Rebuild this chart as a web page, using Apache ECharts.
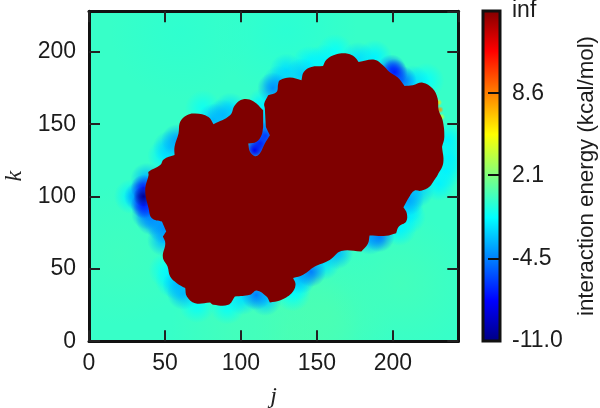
<!DOCTYPE html>
<html>
<head>
<meta charset="utf-8">
<style>
  html, body { margin: 0; padding: 0; background: #fff; }
  #main { width: 600px; height: 408px; }
</style>
<script src="https://cdn.jsdelivr.net/npm/echarts@6/dist/echarts.min.js"></script>
</head>
<body>
<div id="main"></div>
<script>
// outline of the inf region, (j, k)
var infJ = [39.2,46.9,49.1,56.3,56.3,58.9,60,64.4,69.8,78.6,81.9,92.8,96,101.5,108.1,114.6,114.6,113.5,110.2,104.8,105.9,109.2,112.4,115.7,119,116.4,115.7,115.3,117.9,123.4,124.5,125.6,132.2,139.8,141.3,146.4,154,156.2,162.8,170.4,174.8,177.4,187.9,193.4,197.7,203.2,207.6,213,219.6,226.1,229.4,230.1,232.7,233.8,232.3,233.1,229.4,227.2,224,218.5,214.1,210.8,206.9,209.1,208.7,203.9,202.1,195.5,184.6,183.5,179.2,166,158.4,148.6,140.9,134.3,135.9,133.3,125.6,119,116.8,110.3,105.9,96,91.7,81.9,79.7,69.8,64.4,63.3,57.8,53.4,51.7,48.6,50.2,48.6,50.8,48,41.4,39.2,37,39.2];
var infK = [117.1,121.7,125.6,128.6,134.4,143.5,151.6,156.2,157.3,155,150,156.2,163.1,167.2,165.8,159.6,148.1,142.4,137.8,136.6,130.9,127.9,129.8,136.6,142.4,148.1,160.8,164.2,170,172.3,178,180.3,182.2,180.3,186.1,189.5,190.2,194.6,198.3,198.7,196.4,193,194.6,190.7,186.1,182.2,176.4,176.9,178.7,174.6,167.7,159.6,152.7,141.2,134.4,123.1,114.8,111.4,106.8,104,104,99.9,92.6,88.4,82.7,79.2,74.6,72.8,73,67.3,62,62.4,56.2,51.6,45.9,43.6,39,33.2,28.2,26.8,30.9,35.1,32.1,30.9,25.2,25.2,26.8,26.3,30.9,36.7,40.1,44.7,51.6,58.1,67.7,72.3,75.8,82.7,85,91.9,104.5,114.9];
// where two lobes of the outline meet in a sharp corner
var infCusps = [3,10,15,16,19,24,25,26,28,33,36,41,46,54,62,66,68,70,75,79,83,86,89,95,96,97];

// energies read next to the boundary
var haloJ = [36,36,36,33,28,38,38, 109,113,116,115,115, 58,53,50,75,82,88,93,115,121,125,130, 140,145,154,162,177,188,199,201,206,213,222, 236,237,235,230,216,210,209, 210,204,191,185,163,154,146,139,136,134, 110,116,101,91,71,62,59,55,51,49,49,47,41,39];
var haloK = [100,106,94,100,100,112,88, 132,137,142,150,158, 139,134,128,161,153,156,160,163,175,179,187, 184,192,193,200,195,196,188,186,180,179,180, 139,127,118,109,104,98,93, 86,78,72,71,61,54,48,44,40,33, 32,29,30,24,25,33,39,42,49,70,78,81,84,93];
var haloE = [-10.5,-7,-7,-4.5,-1.5,-3,-4, -8,-6.5,-6,-3,-1.5, -3.5,-2.5,-1.5,-0.8,-3,-3,-2,-1.5,-4,-2.5,-2, -2.5,-1.5,-1.5,-1,-2,-1.5,-5,-7,-5,-2,-1, -1.5,-1.5,-1.5,-1.5,-2.5,-3.5,-2, -1.5,-1.5,-4.5,-3,-3,-2,-4.5,-3,-1.5,-1, -4.5,-2.5,-2,-1,-1,-3,-3,-1.5,-1,-3,-4,-3,-4,-5];

// slow drift of the far field
var tintJ = [132,155,100,205,130,60,20];
var tintK = [8,18,8,40,215,215,60];
var tintE = [0.8,0.7,0.5,0.5,-0.1,0,0.4];

// hot rim on the right side of the blob
var rimJ = [230,231,232];
var rimK = [165,160,155];
var rimE = [6,8,4];

var farEnergy = 0.2;
var jMax = 243;
var kMax = 228;
var jTicks = 50;
var kTicks = 50;
var minEnergy = -11;
var infEnergy = 15.1;
var barTicks = [-11, -4.5, 2.1, 8.6, 15.1];
var barLabels = ['-11.0', '-4.5', '2.1', '8.6', 'inf'];
var jetColors = ['#00007f', '#0000ff', '#007fff', '#00ffff', '#7fff7f', '#ffff00', '#ff7f00', '#ff0000', '#7f0000'];

var myChart = echarts.init(document.getElementById('main'), null, { renderer: 'canvas' });

function triples(js, ks, es) {
  return js.map(function (j, i) { return [j, ks[i], es[i]]; })
    .sort(function (a, b) { return b[2] - a[2]; });
}

function glow(radius) {
  return function (params, api) {
    var c = api.coord([api.value(0), api.value(1)]);
    var col = api.visual('color');
    var r = typeof radius === 'function' ? radius(api.value(2)) : radius;
    return {
      type: 'circle',
      shape: { cx: c[0], cy: c[1], r: r },
      style: {
        fill: new echarts.graphic.RadialGradient(0.5, 0.5, 0.5, [
          { offset: 0, color: col },
          { offset: 0.35, color: echarts.color.modifyAlpha(col, 0.7) },
          { offset: 1, color: echarts.color.modifyAlpha(col, 0) }
        ])
      }
    };
  };
}

var axisLine = { show: true, onZero: false, lineStyle: { color: '#111', width: 3 } };
var axisTick = { show: true, inside: true, length: 11, lineStyle: { color: '#222', width: 2 } };
var labelFont = { color: '#1c1c1c', fontSize: 23, fontFamily: 'Liberation Sans' };
var mathFont = { color: '#222', fontSize: 24, fontFamily: 'Liberation Serif', fontStyle: 'italic' };

var option = {
  animation: false,
  backgroundColor: '#fff',
  grid: [
    { left: 89, top: 11.3, width: 369.3, height: 329.9, outerBoundsMode: 'none' },
    { left: 483, top: 11, width: 17, height: 330, outerBoundsMode: 'none' }
  ],
  visualMap: {
    show: false,
    type: 'continuous',
    min: minEnergy,
    max: infEnergy,
    dimension: 2,
    seriesIndex: [0, 1, 2, 3, 4],
    inRange: { color: jetColors }
  },
  xAxis: [
    {
      type: 'value', gridIndex: 0, min: 0, max: jMax, interval: jTicks, position: 'bottom', z: 5,
      name: 'j', nameLocation: 'middle', nameGap: 43, nameTextStyle: mathFont,
      axisLine: axisLine, axisTick: axisTick, splitLine: { show: false },
      axisLabel: Object.assign({ margin: 11, showMaxLabel: false }, labelFont)
    },
    {
      type: 'value', gridIndex: 0, min: 0, max: jMax, interval: jTicks, position: 'top', z: 5,
      axisLine: axisLine, axisTick: axisTick, splitLine: { show: false }, axisLabel: { show: false }
    },
    { type: 'value', gridIndex: 1, min: 0, max: 1, show: false }
  ],
  yAxis: [
    {
      type: 'value', gridIndex: 0, min: 0, max: kMax, interval: kTicks, position: 'left', z: 5,
      name: 'k', nameLocation: 'middle', nameRotate: 90, nameGap: 58, nameTextStyle: mathFont,
      axisLine: axisLine, axisTick: axisTick, splitLine: { show: false },
      axisLabel: Object.assign({ margin: 13, showMaxLabel: false }, labelFont)
    },
    {
      type: 'value', gridIndex: 0, min: 0, max: kMax, interval: kTicks, position: 'right', z: 5,
      axisLine: axisLine, axisTick: axisTick, splitLine: { show: false }, axisLabel: { show: false }
    },
    {
      type: 'value', gridIndex: 1, min: minEnergy, max: infEnergy, position: 'right', z: 5,
      name: 'interaction energy (kcal/mol)', nameLocation: 'middle', nameRotate: 90, nameGap: 76,
      nameTextStyle: { color: '#1c1c1c', fontSize: 22.3, fontFamily: 'Liberation Sans' },
      axisLine: { show: false, onZero: false },
      axisTick: { show: false },
      splitLine: { show: false },
      axisLabel: Object.assign({
        margin: 12,
        customValues: barTicks,
        showMinLabel: true,
        showMaxLabel: true,
        formatter: function (v) {
          var i = barTicks.indexOf(v);
          return i < 0 ? '' : barLabels[i];
        }
      }, labelFont)
    }
  ],
  series: [
    // far field
    {
      type: 'custom', xAxisIndex: 0, yAxisIndex: 0, clip: true,
      data: [[0, 0, farEnergy]],
      renderItem: function (params, api) {
        var a = api.coord([0, kMax]);
        var b = api.coord([jMax, 0]);
        return { type: 'rect', shape: { x: a[0], y: a[1], width: b[0] - a[0], height: b[1] - a[1] }, style: { fill: api.visual('color') } };
      }
    },
    {
      type: 'custom', xAxisIndex: 0, yAxisIndex: 0, clip: true,
      data: triples(tintJ, tintK, tintE),
      renderItem: glow(70)
    },
    {
      type: 'custom', xAxisIndex: 0, yAxisIndex: 0, clip: true,
      data: triples(haloJ, haloK, haloE),
      renderItem: glow(function (e) { return 10 + 0.8 * (e + 11); })
    },
    {
      type: 'custom', xAxisIndex: 0, yAxisIndex: 0, clip: true,
      data: triples(rimJ, rimK, rimE),
      renderItem: glow(3.5)
    },
    // inf region
    {
      type: 'custom', xAxisIndex: 0, yAxisIndex: 0, clip: true,
      data: infJ.map(function (j, i) { return [j, infK[i], infEnergy]; }),
      renderItem: function (params, api) {
        if (params.dataIndex !== 0) return null;
        var pts = [];
        infJ.forEach(function (j, i) {
          var p = api.coord([j, infK[i]]);
          pts.push(p);
          if (infCusps.indexOf(i) >= 0) pts.push(p.slice());
        });
        return { type: 'polygon', shape: { points: pts, smooth: 0.4 }, style: { fill: api.visual('color') } };
      }
    },
    // colour bar, drawn without the visual map
    {
      type: 'custom', xAxisIndex: 2, yAxisIndex: 2, z: 6,
      data: [[0, minEnergy]],
      renderItem: function (params, api) {
        var a = api.coord([0, infEnergy]);
        var b = api.coord([1, minEnergy]);
        return {
          type: 'rect',
          shape: { x: a[0], y: a[1], width: b[0] - a[0], height: b[1] - a[1] },
          style: {
            fill: new echarts.graphic.LinearGradient(0, 1, 0, 0, jetColors.map(function (c, i) {
              return { offset: i / (jetColors.length - 1), color: c };
            })),
            stroke: '#111',
            lineWidth: 3
          }
        };
      }
    },
    // ticks of the colour bar, on the inner side of its right edge
    {
      type: 'custom', xAxisIndex: 2, yAxisIndex: 2, z: 7, clip: false,
      data: barTicks.slice(1, 4).map(function (v) { return [1, v]; }),
      renderItem: function (params, api) {
        var t = api.coord([1, api.value(1)]);
        return {
          type: 'rect',
          shape: { x: t[0] - 12, y: Math.round(t[1]) - 1, width: 12, height: 2 },
          style: { fill: '#111' }
        };
      }
    }
  ]
};

myChart.setOption(option);
</script>
</body>
</html>
